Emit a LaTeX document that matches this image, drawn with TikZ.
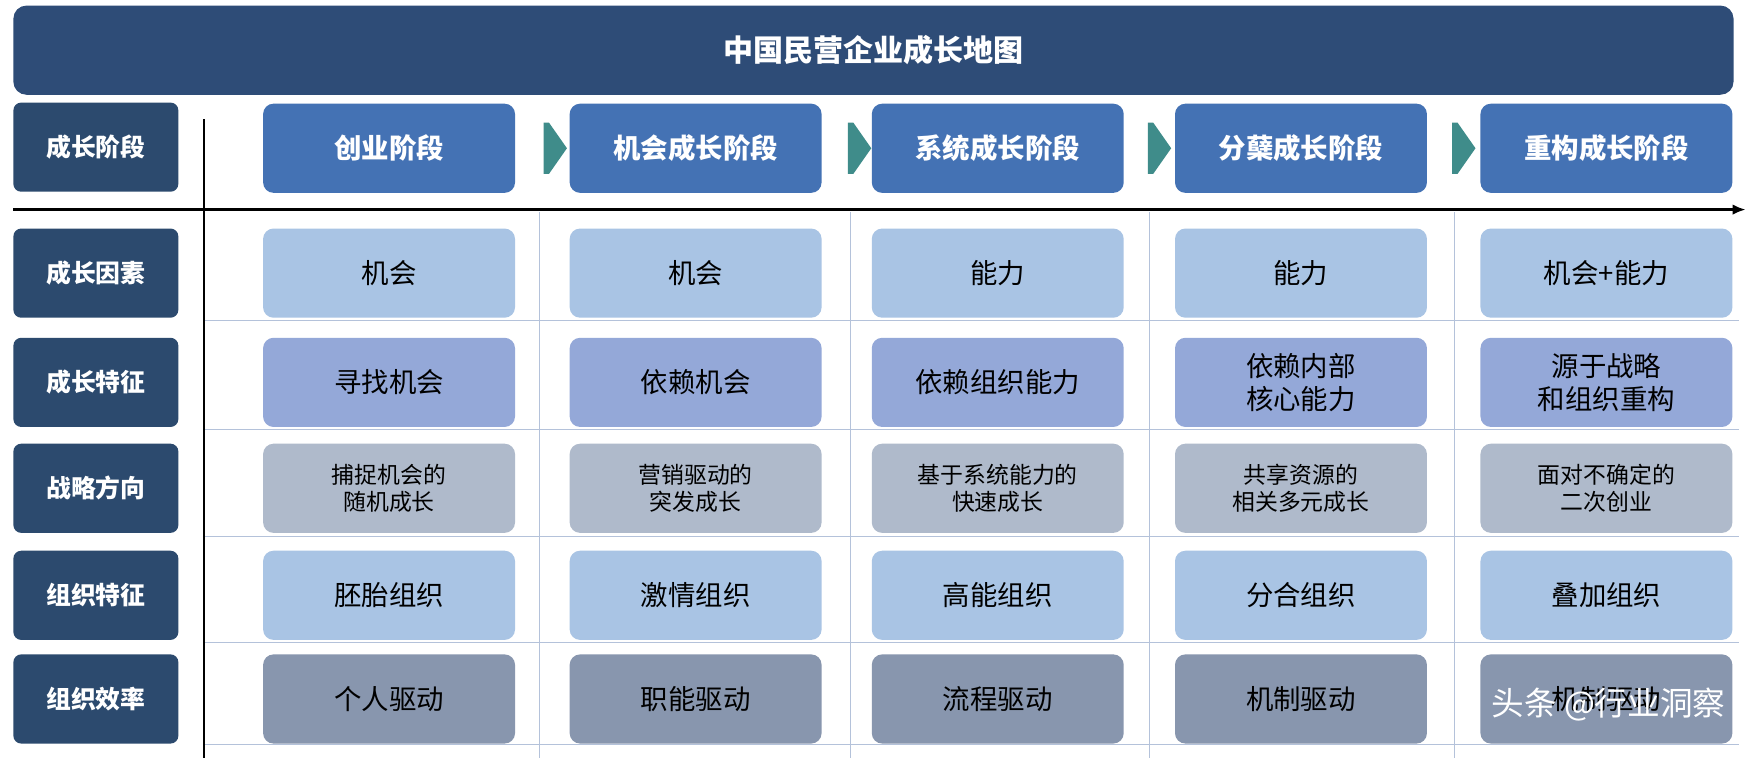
\documentclass[tikz,border=0pt]{standalone}
\usepackage{fontspec}
\setmainfont{Noto Sans CJK SC}
\usetikzlibrary{shapes.arrows,arrows.meta}
\definecolor{navy}{HTML}{2C4A6E}
\definecolor{titleb}{HTML}{2E4C77}
\definecolor{stage}{HTML}{4472B4}
\definecolor{teal}{HTML}{3F8C8A}
\definecolor{lb}{HTML}{A9C4E4}
\definecolor{peri}{HTML}{94A8D8}
\definecolor{gr}{HTML}{AFBACB}
\definecolor{gb}{HTML}{8896AE}
\definecolor{sep}{HTML}{B4C2DA}
\begin{document}
\begin{tikzpicture}[x=0.03cm,y=-0.03cm,
 lab/.style={fill=navy,rounded corners=6pt,minimum width=148*0.03cm,minimum height=80*0.03cm,text=white,font=\bfseries\fontsize{19}{22}\selectfont,inner sep=0},
 cell/.style={rounded corners=8pt,minimum width=226*0.03cm,minimum height=80*0.03cm,align=center,inner sep=0,font=\fontsize{21}{25}\selectfont},
 small/.style={font=\fontsize{17.5}{21}\selectfont},
 hdr/.style={cell,fill=stage,text=white,font=\bfseries\fontsize{21}{25}\selectfont},
 chev/.style={single arrow,fill=teal,minimum height=21*0.03cm,minimum width=46*0.03cm,single arrow head extend=0pt,single arrow tip angle=110,inner sep=0}]
\useasboundingbox (0,0) rectangle (1568,680);
\fill[white] (0,0) rectangle (1568,680);
\node[fill=titleb,rounded corners=10pt,minimum width=1543*0.03cm,minimum height=80*0.03cm,text=white,font=\bfseries\fontsize{23}{27}\selectfont] (title) at (783.5,45) {中国民营企业成长地图};
% grid
\foreach \yy in {287,385,481,576,668} \draw[sep,line width=0.6pt] (183,\yy) -- (1560,\yy);
\foreach \xx in {484,763,1031,1305} \draw[sep,line width=0.6pt] (\xx,190) -- (\xx,680);
\coordinate (ax0) at (183,107); \coordinate (ax1) at (183,680);
\draw[line width=2.2pt] (ax0) -- (ax1);
\coordinate (h0) at (12,188); \coordinate (h1) at (1566,188);
\draw[line width=2.2pt,-{Latex[length=10pt,width=8pt]}] (h0) -- (h1);
% left labels
\foreach \n/\yy/\t in {l0/132/成长阶段,l1/245/成长因素,l2/343/成长特征,l3/438/战略方向,l4/534/组织特征,l5/627/组织效率}
  \node[lab] (\n) at (86,\yy) {\t};
% headers
\node[hdr] (h1c) at (349,133) {创业阶段};
\node[hdr] (h2c) at (624,133) {机会成长阶段};
\node[hdr] (h3c) at (895,133) {系统成长阶段};
\node[hdr] (h4c) at (1167,133) {分蘖成长阶段};
\node[hdr] (h5c) at (1441,133) {重构成长阶段};
\foreach \xx/\n in {490/c1,763/c2,1032/c3,1305/c4} \node[chev] (\n) at (\xx,133) {};
% rows
\foreach \xx/\i/\t in {349/1/机会,624/2/机会,895/3/能力,1167/4/能力,1441/5/机会+能力}
  \node[cell,fill=lb] (r1\i) at (\xx,245) {\t};
\foreach \xx/\i/\t in {349/1/寻找机会,624/2/依赖机会,895/3/依赖组织能力,1167/4/{依赖内部\\核心能力},1441/5/{源于战略\\和组织重构}}
  \node[cell,fill=peri] (r2\i) at (\xx,343) {\t};
\foreach \xx/\i/\t in {349/1/{捕捉机会的\\随机成长},624/2/{营销驱动的\\突发成长},895/3/{基于系统能力的\\快速成长},1167/4/{共享资源的\\相关多元成长},1441/5/{面对不确定的\\二次创业}}
  \node[cell,fill=gr,small] (r3\i) at (\xx,438) {\t};
\foreach \xx/\i/\t in {349/1/胚胎组织,624/2/激情组织,895/3/高能组织,1167/4/分合组织,1441/5/叠加组织}
  \node[cell,fill=lb] (r4\i) at (\xx,534) {\t};
\foreach \xx/\i/\t in {349/1/个人驱动,624/2/职能驱动,895/3/流程驱动,1167/4/机制驱动,1441/5/机制驱动}
  \node[cell,fill=gb] (r5\i) at (\xx,627) {\t};
\node[text=white,font=\fontsize{25}{29}\selectfont,anchor=east] (wm) at (1552,632) {头条 @行业洞察};
\end{tikzpicture}
\end{document}
